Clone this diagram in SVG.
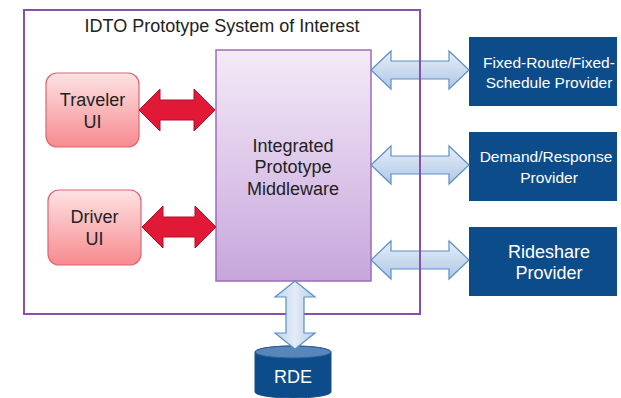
<svg xmlns="http://www.w3.org/2000/svg" width="621" height="398" viewBox="0 0 621 398">
<defs>
<linearGradient id="gPink" x1="0" y1="0" x2="0" y2="1"><stop offset="0" stop-color="#FDE3E3"/><stop offset="1" stop-color="#F78A8F"/></linearGradient>
<linearGradient id="gPurple" x1="0" y1="0" x2="0" y2="1"><stop offset="0" stop-color="#F4EAF7"/><stop offset="1" stop-color="#C7A6DC"/></linearGradient>
<linearGradient id="gBlue" x1="0" y1="0" x2="0" y2="1"><stop offset="0" stop-color="#E6EEF8"/><stop offset="1" stop-color="#AFC7E6"/></linearGradient>
<linearGradient id="gBlueV" x1="0" y1="0" x2="1" y2="0"><stop offset="0" stop-color="#C2D4EC"/><stop offset="0.5" stop-color="#E3ECF7"/><stop offset="1" stop-color="#B6CCE8"/></linearGradient>
<style>
text{font-family:"Liberation Sans",Arial,sans-serif;text-anchor:middle}
.dark{fill:#222}
.white{fill:#fff}
.pink{fill:url(#gPink);stroke:#E06472;stroke-width:1.2}
.prov{fill:#0D4C8B}
.red{fill:#E11937;stroke:#B0102A;stroke-width:1}
.blue{fill:url(#gBlue);stroke:#5C8FC6;stroke-width:1.2}
.border{fill:none;stroke:#8A4FA8;stroke-width:2}
</style>
</defs>
<rect x="0" y="0" width="621" height="398" fill="#fff"/>
<g id="system">
<rect class="border" x="24" y="10" width="396" height="304"/>
<text class="dark" x="222" y="32" font-size="18">IDTO Prototype System of Interest</text>
</g>
<g id="middleware">
<rect x="216" y="50" width="155" height="231" fill="url(#gPurple)" stroke="#9C6DBA" stroke-width="1.5"/>
<text class="dark" x="293" y="152" font-size="18">Integrated</text>
<text class="dark" x="293" y="173" font-size="18">Prototype</text>
<text class="dark" x="293" y="195" font-size="18">Middleware</text>
</g>
<g id="traveler-ui">
<rect class="pink" x="46" y="73" width="93" height="74" rx="11"/>
<text class="dark" x="92.5" y="106" font-size="18">Traveler</text>
<text class="dark" x="92.5" y="128" font-size="18">UI</text>
</g>
<g id="driver-ui">
<rect class="pink" x="48" y="190" width="93" height="75" rx="11"/>
<text class="dark" x="94.5" y="223" font-size="18">Driver</text>
<text class="dark" x="94.5" y="245" font-size="18">UI</text>
</g>
<g id="fixed-route">
<rect class="prov" x="469" y="37" width="148" height="69"/>
<text class="white" x="549" y="68" font-size="15.5">Fixed-Route/Fixed-</text>
<text class="white" x="549" y="88" font-size="15.5">Schedule Provider</text>
</g>
<g id="demand-response">
<rect class="prov" x="469" y="132" width="148" height="69"/>
<text class="white" x="546" y="162" font-size="15.5">Demand/Response</text>
<text class="white" x="549" y="183" font-size="15.5">Provider</text>
</g>
<g id="rideshare">
<rect class="prov" x="469" y="227" width="148" height="69"/>
<text class="white" x="549" y="258" font-size="18">Rideshare</text>
<text class="white" x="549" y="279" font-size="18">Provider</text>
</g>
<g id="rde">
<path d="M255,352 A38,6 0 0 1 331,352 L331,392 A38,6 0 0 1 255,392 Z" fill="#0D4C8B" stroke="#1A4F85" stroke-width="1"/>
<ellipse cx="293" cy="352" rx="38" ry="6" fill="#5885BA" stroke="#2C5F97" stroke-width="1"/>
<text class="white" x="293" y="383" font-size="18">RDE</text>
</g>
<g id="connectors">
<path class="red" d="M139,110 L160,89 L160,100 L194,100 L194,89 L215,110 L194,131 L194,120 L160,120 L160,131 Z"/>
<path class="red" d="M142,227 L163,206 L163,217 L195,217 L195,206 L216,227 L195,248 L195,237 L163,237 L163,248 Z"/>
<path class="blue" d="M371,70 L391,51 L391,61 L449,61 L449,51 L469,70 L449,89 L449,79 L391,79 L391,89 Z"/>
<path class="blue" d="M371,165 L391,146 L391,156 L449,156 L449,146 L469,165 L449,184 L449,174 L391,174 L391,184 Z"/>
<path class="blue" d="M371,260 L391,241 L391,251 L449,251 L449,241 L469,260 L449,279 L449,269 L391,269 L391,279 Z"/>
<path d="M295,281 L315,297 L304,297 L304,333 L315,333 L295,349 L275,333 L286,333 L286,297 L275,297 Z" fill="url(#gBlueV)" stroke="#5C8FC6" stroke-width="1.2"/>
</g>
<line x1="420" y1="9" x2="420" y2="315" stroke="#8A4FA8" stroke-width="2"/>
</svg>
